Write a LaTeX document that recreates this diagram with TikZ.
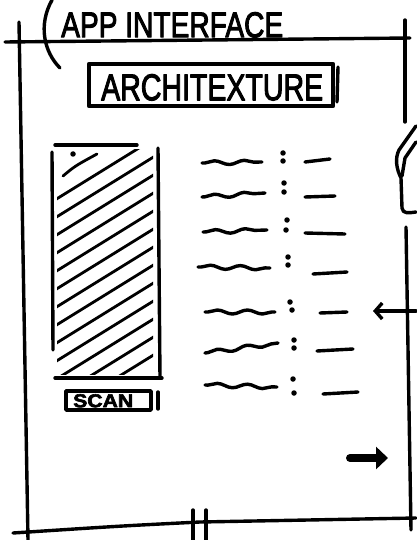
\documentclass[tikz,border=0pt]{standalone}
\usepackage{fontspec}
\usepackage{graphicx}
\setmainfont{Liberation Sans}
\newfontfamily\hand[FakeBold=3]{Liberation Sans}
\usetikzlibrary{arrows.meta,decorations.pathmorphing}
\begin{document}
\begin{tikzpicture}[x=1pt,y=-1pt, line cap=round, line join=round,
  ink/.style={line width=3.4pt},
  thinink/.style={line width=2.8pt},
  wave/.style={line width=3.4pt, decorate, decoration={snake, amplitude=2pt, segment length=30pt, pre length=3pt, post length=3pt}},
  inkdot/.style={circle, fill, inner sep=0pt, minimum size=5.5pt},
  lbl/.style={inner sep=0pt, anchor=north west, font=\hand}]
\useasboundingbox[fill=white] (0,0) rectangle (416,540);

% frame lines
\draw[ink] (5,42) -- (410,38);
\draw[ink] (19,22) -- (28,540);
\draw[ink] (405,20) -- (405,122);
\draw[ink] (406,227) -- (411,530);
\draw[ink] (13,533) .. controls (120,526) .. (200,522) -- (416,518);
\draw[ink] (193,510) -- (193,540);
\draw[ink] (206,510) -- (206,540);
% bracket
\draw[ink] (52,0) .. controls (38,25) and (44,52) .. (60,68);
% right-top hand shape
\draw[ink] (416,126) -- (399,150) .. controls (395,158) and (396,168) .. (401,178) -- (402,208) .. controls (403,214) and (408,213) .. (416,212);
\draw[ink] (416,142) -- (405,158) -- (402,176);

% title
\node[lbl] (title) at (61,12) {\resizebox{222pt}{25pt}{APP INTERFACE}};

% ARCHITEXTURE box
\draw[line width=4.5pt] (89,64) rectangle (333,106);
\draw[ink] (338,67) -- (337,102);
\node[lbl] (arch) at (101,74) {\resizebox{222pt}{26pt}{ARCHITEXTURE}};

% hatched image
\draw[ink] (55,145) -- (137,145);
\draw[ink] (52,152) -- (53,350);
\draw[ink] (158,148) -- (160,378);
\draw[ink] (55,378) -- (162,378);
\node[inkdot] (spot) at (73,154) {};
\draw[thinink] (63,176) .. controls (75,166) .. (97,154);
\begin{scope}
  \clip (57,150) rectangle (153,374);
  \foreach \k in {0,...,12}
    \draw[thinink] (50,{203+18*\k}) -- (160,{203+18*\k-68});
\end{scope}

% SCAN button
\draw[ink] (66,391) rectangle (151,410);
\draw[ink] (158,392) -- (158,409);
\node[lbl] (scan) at (73,394) {\resizebox{60pt}{13pt}{\bfseries SCAN}};

% list rows
\draw[wave] (202,163) -- (262,162);
\node[inkdot] (c1a) at (283,153) {}; \node[inkdot] (c1b) at (283,161) {};
\draw[ink] (305,162) -- (330,159);

\draw[wave] (202,197) -- (265,193);
\node[inkdot] (c2a) at (284,183) {}; \node[inkdot] (c2b) at (284,192) {};
\draw[ink] (305,197) -- (335,196);

\draw[wave] (203,232) -- (267,230);
\node[inkdot] (c3a) at (287,220) {}; \node[inkdot] (c3b) at (286,230) {};
\draw[ink] (305,233) -- (345,234);

\draw[wave] (198,267) -- (270,268);
\node[inkdot] (c4a) at (288,257) {}; \node[inkdot] (c4b) at (288,265) {};
\draw[ink] (313,274) -- (347,272);

\draw[wave] (205,312) -- (275,312);
\node[inkdot] (c5a) at (290,302) {}; \node[inkdot] (c5b) at (292,310) {};
\draw[ink] (320,313) -- (347,312);

\draw[wave] (205,353) -- (278,343);
\node[inkdot] (c6a) at (294,340) {}; \node[inkdot] (c6b) at (294,348) {};
\draw[ink] (317,351) -- (353,349);

\draw[wave] (205,385) -- (277,387);
\node[inkdot] (c7a) at (293,379) {}; \node[inkdot] (c7b) at (294,393) {};
\draw[ink] (323,394) -- (358,392);

% arrows
\coordinate (ltail) at (416,311);
\coordinate (ltip) at (373,311);
\draw[ink, -{Straight Barb[length=7pt,width=16pt,line width=3.4pt]}] (ltail) -- (ltip);
\coordinate (rtail) at (350,458);
\coordinate (rtip) at (388,458);
\draw[line width=8pt, -{Triangle[length=12pt,width=22pt]}] (rtail) -- (rtip);
\end{tikzpicture}
\end{document}
